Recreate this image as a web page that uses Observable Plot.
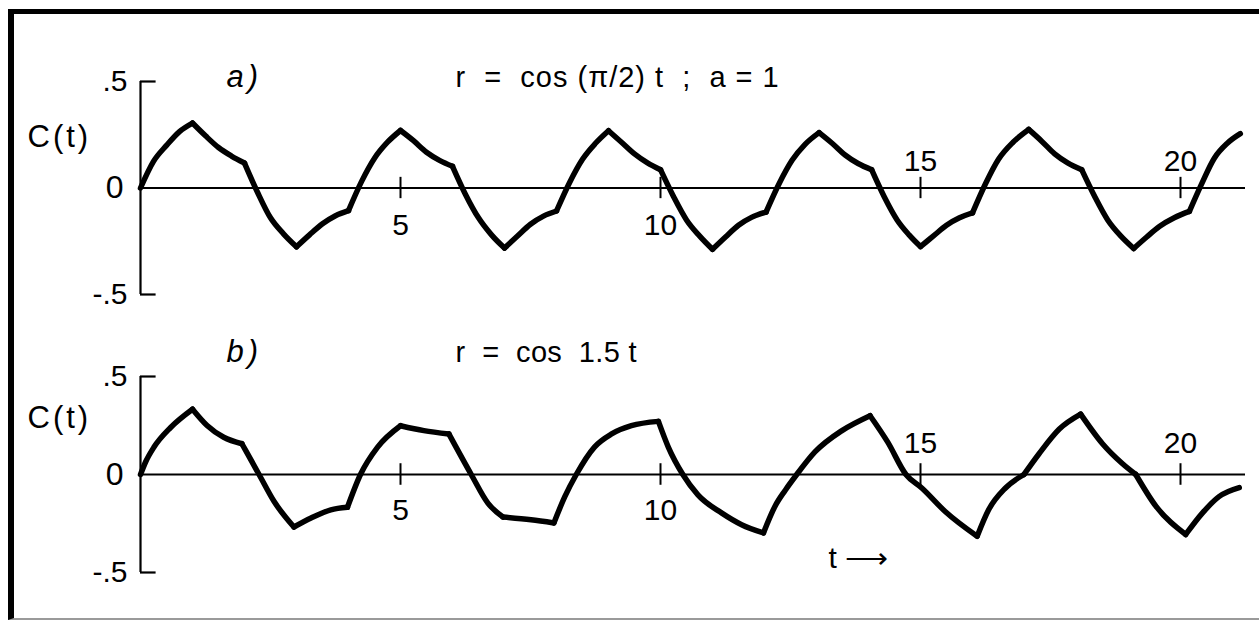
<!DOCTYPE html>
<html><head><meta charset="utf-8">
<script src="https://cdn.jsdelivr.net/npm/d3@7"></script>
<script src="https://cdn.jsdelivr.net/npm/@observablehq/plot@0.6"></script>
<style>
body{margin:0;background:#fff;}
#wrap{position:relative;width:1259px;height:621px;overflow:hidden;background:#fff;}
#frame{position:absolute;left:8px;top:9px;width:1270px;height:611px;border-left:6px solid #000;border-top:5px solid #000;border-bottom:2px solid #9a9a9a;box-sizing:border-box;}
.panel{position:absolute;left:0;}
</style></head>
<body><div id="wrap"><div id="frame"></div><div id="pa" class="panel" style="top:0px"></div><div id="pb" class="panel" style="top:310px"></div></div>
<script>
// ---- data ----
const tA = [0,0.25,0.5,0.75,1,1.25,1.5,1.75,2,2.25,2.5,2.75,3,3.25,3.5,3.75,4,4.25,4.5,4.75,
  5,5.25,5.5,5.75,6,6.25,6.5,6.75,7,7.25,7.5,7.75,8,8.25,8.5,8.75,9,9.25,9.5,9.75,
  10,10.25,10.5,10.75,11,11.25,11.5,11.75,12.03,12.28,12.53,12.78,13.05,13.3,13.55,13.8,
  14.06,14.3,14.55,14.78,15,15.25,15.5,15.75,16,16.25,16.5,16.78,17.08,17.33,17.58,17.83,
  18.1,18.35,18.6,18.85,19.1,19.35,19.6,19.88,20.17,20.4,20.65,20.9,21.15];
const cA = [0,0.125,0.2,0.265,0.305,0.245,0.19,0.15,0.117,-0.02,-0.14,-0.215,-0.276,-0.22,-0.168,-0.13,-0.106,0.03,0.14,0.215,
  0.27,0.222,0.168,0.13,0.102,-0.03,-0.14,-0.22,-0.282,-0.225,-0.17,-0.132,-0.108,0.025,0.135,0.21,0.269,0.215,0.16,0.118,
  0.086,-0.04,-0.15,-0.225,-0.288,-0.23,-0.175,-0.138,-0.113,0.02,0.13,0.205,0.26,0.21,0.155,0.115,
  0.086,-0.04,-0.15,-0.22,-0.275,-0.225,-0.175,-0.14,-0.117,0.02,0.135,0.215,0.275,0.22,0.16,0.118,
  0.086,-0.04,-0.15,-0.225,-0.284,-0.23,-0.18,-0.14,-0.11,0.016,0.14,0.21,0.255];
// t where curve a has a sharp corner
const cornersA = [1,2,3,4,5,6,7,8,9,10,11,12.03,13.05,14.06,15,16,17.08,18.1,19.1,20.17];

const tB = [0,0.1,0.26,0.58,1,1.28,1.6,1.95,2.28,2.57,2.95,3.28,3.66,3.98,4.23,4.56,5,5.45,5.93,
  6.36,6.68,6.97,7.51,7.95,8.16,8.38,8.73,9.06,9.44,9.96,10.15,10.43,10.72,11.18,11.56,11.98,
  12.2,12.4,12.62,12.97,13.49,14.03,14.37,14.72,15.03,15.48,16.09,16.31,16.63,16.99,17.28,17.67,
  18.08,18.5,18.88,19.14,19.53,20.1,20.42,20.74,21.13];
const cB = [0,0.065,0.14,0.24,0.333,0.25,0.19,0.157,0,-0.138,-0.268,-0.222,-0.18,-0.167,0,0.14,0.249,0.224,0.207,
  0,-0.146,-0.217,-0.231,-0.247,-0.113,0,0.14,0.207,0.249,0.271,0.14,0,-0.104,-0.197,-0.256,-0.298,
  -0.163,-0.08,0,0.115,0.224,0.30,0.165,0,-0.07,-0.19,-0.315,-0.18,-0.07,0,0.106,0.232,
  0.308,0.157,0.056,0,-0.163,-0.306,-0.197,-0.113,-0.067];
// t where curve b has a sharp corner
const cornersB = [1,1.95,2.95,3.98,5,5.93,6.97,7.95,9.96,11.98,14.03,16.09,16.99,18.08,19.14,20.1];

const xTicks = [5, 10, 15, 20];
const xTicksBelow = [5, 10];
const xTicksAbove = [15, 20];
const yTicks = [0.5, 0, -0.5];
const yTickLabels = [".5", "0", "-.5"];
const yBrackets = [0.5, -0.5];
const panelLabels = ["a)", "b)"];
const panelTitles = ["r  =  cos (π/2) t  ;  a = 1", "r  =  cos  1.5 t"];
const yLabel = "C(t)";
const xLabel = "t ⟶";

const FONT = '"Liberation Sans", Arial, sans-serif';

// split the curve into smooth pieces at its corners
function pieces(t, c, corners) {
  const out = [];
  let seg = 0;
  t.forEach((v, i) => {
    out.push({t: v, c: c[i], seg});
    if (corners.includes(v)) { seg++; out.push({t: v, c: c[i], seg}); }
  });
  return out;
}

function panel(t, c, corners, o) {
  const data = pieces(t, c, corners);
  const marks = [
    Plot.ruleX([0], {y1: -0.5, y2: 0.5, strokeWidth: 2.2}),
    Plot.ruleY(yBrackets, {x1: 0, x2: 0.3, strokeWidth: 2.2}),
    Plot.ruleY([0], {x1: 0, x2: 21.25, strokeWidth: 2}),
    Plot.ruleX(xTicks, {y1: -o.tick, y2: o.tick, strokeWidth: 2}),
    Plot.text(yTicks, {x: 0, y: d => d, text: (d, i) => yTickLabels[i], dx: -13, textAnchor: "end", fontSize: 30}),
    Plot.text(xTicksBelow, {x: d => d, y: 0, text: d => String(d), dy: o.below, fontSize: 30, lineAnchor: "middle"}),
    Plot.text(xTicksAbove, {x: d => d, y: 0, text: d => String(d), dy: o.above, fontSize: 30, lineAnchor: "middle"}),
    Plot.line(data, {x: "t", y: "c", z: "seg", curve: "monotone-x", strokeWidth: 5.5, strokeLinejoin: "round", strokeLinecap: "round"}),
    Plot.text([yLabel], {frameAnchor: "top-left", dx: -113, dy: o.clabel, textAnchor: "start", lineAnchor: "middle", fontSize: 31}),
    Plot.text([panelLabels[o.i]], {frameAnchor: "top-left", dx: 86, dy: o.title, textAnchor: "start", lineAnchor: "middle", fontSize: 31, fontStyle: "italic"}),
    Plot.text([panelTitles[o.i]], {frameAnchor: "top-left", dx: 315, dy: o.title, textAnchor: "start", lineAnchor: "middle", fontSize: 29})
  ];
  if (o.xlab) marks.push(Plot.text([xLabel], {frameAnchor: "bottom-left", dx: 688, dy: -14, textAnchor: "start", lineAnchor: "middle", fontSize: 30}));
  const svg = Plot.plot({
    width: 1259, height: o.height,
    marginLeft: 140, marginRight: 14, marginTop: o.top, marginBottom: o.bottom,
    x: {domain: [0, 21.25], axis: null},
    y: {domain: [-0.5, 0.5], axis: null},
    style: {fontFamily: FONT, background: "transparent", color: "#000", overflow: "visible"},
    marks
  });
  // letter spacing of the hand-lettered labels
  const spacing = new Map([[yLabel, "3px"], [panelLabels[o.i], "4px"], [panelTitles[o.i], o.ls]]);
  svg.querySelectorAll("text").forEach(el => {
    const s = el.textContent;
    if (spacing.has(s)) el.setAttribute("letter-spacing", spacing.get(s));
    if (s === yTickLabels[1]) { el.setAttribute("font-size", "32"); el.setAttribute("dx", "-4"); }
  });
  return svg;
}

document.getElementById("pa").appendChild(panel(tA, cA, cornersA, {i: 0, height: 310, top: 81, bottom: 16, tick: 0.05, below: 37, above: -27, clabel: 56, title: -4, ls: "1px"}));
document.getElementById("pb").appendChild(panel(tB, cB, cornersB, {i: 1, height: 311, top: 66, bottom: 49, tick: 0.055, below: 36, above: -31, clabel: 42, title: -24, ls: "0.3px", xlab: true}));
</script>
</body></html>
